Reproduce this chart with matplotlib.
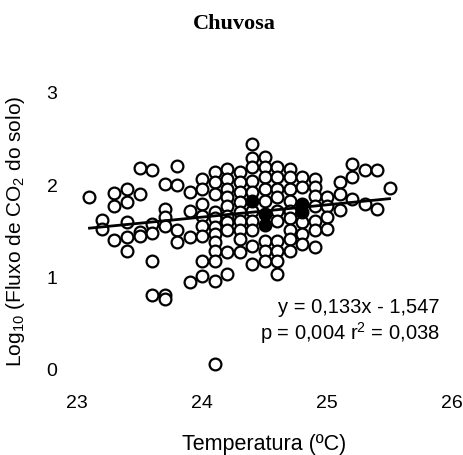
import numpy as np
import matplotlib
matplotlib.use('Agg')
import matplotlib.pyplot as plt

plt.rcParams['font.family'] = ['Liberation Sans', 'DejaVu Sans']
plt.rcParams['mathtext.fontset'] = 'custom'
plt.rcParams['mathtext.rm'] = 'Liberation Sans'
plt.rcParams['mathtext.it'] = 'Liberation Sans'

# Dados: temperatura (ºC) e log10 do fluxo de CO2, por coluna
temp_cols = [23.1, 23.2, 23.3, 23.4, 23.5, 23.6, 23.7, 23.8, 23.9, 24.0, 24.1, 24.2,
             24.3, 24.4, 24.5, 24.6, 24.7, 24.8, 24.9, 25.0, 25.1, 25.2, 25.3, 25.4, 25.5]
fluxo_cols = [
    [1.86],
    [1.61, 1.52],
    [1.91, 1.77, 1.40],
    [1.95, 1.81, 1.59, 1.43, 1.28],
    [2.18, 1.89, 1.48, 1.44],
    [2.15, 1.57, 1.47, 1.17, 0.80],
    [2.00, 1.73, 1.65, 1.55, 0.80, 0.76],
    [2.20, 1.99, 1.50, 1.38],
    [1.92, 1.71, 1.43, 0.94],
    [2.06, 1.95, 1.79, 1.66, 1.55, 1.44, 1.17, 1.01],
    [2.13, 2.03, 1.90, 1.70, 1.63, 1.54, 1.46, 1.38, 1.28, 1.17, 0.95, 0.05],
    [2.17, 2.06, 1.95, 1.86, 1.77, 1.66, 1.59, 1.50, 1.27, 1.03],
    [2.13, 2.03, 1.92, 1.81, 1.70, 1.60, 1.50, 1.41, 1.27],
    [2.44, 2.28, 2.19, 2.04, 1.92, 1.71, 1.60, 1.50, 1.33, 1.14],
    [2.30, 2.19, 2.08, 1.95, 1.82, 1.39, 1.28, 1.17],
    [2.19, 2.08, 1.95, 1.86, 1.71, 1.60, 1.39, 1.28, 1.17, 1.03],
    [2.17, 2.08, 1.95, 1.82, 1.71, 1.63, 1.50, 1.41, 1.28],
    [2.08, 1.97, 1.59, 1.46, 1.35],
    [2.06, 1.97, 1.87, 1.76, 1.60, 1.50, 1.32],
    [1.86, 1.76, 1.65, 1.52],
    [2.03, 1.90, 1.72],
    [2.22, 2.08, 1.84],
    [2.16, 1.79],
    [2.16, 1.73],
    [1.96],
]
# pontos que aparecem preenchidos
temp_cheio = [24.4, 24.5, 24.5, 24.8, 24.8]
fluxo_cheio = [1.82, 1.68, 1.56, 1.79, 1.70]

# regressão informada no gráfico
a, b = 0.133, -1.547
eq_txt = 'y = 0,133x - 1,547'
p_txt = 'p = 0,004 r$^2$ = 0,038'

x_ticks = [23, 24, 25, 26]
y_ticks = [0, 1, 2, 3]

temperatura = np.concatenate([[t] * len(f) for t, f in zip(temp_cols, fluxo_cols)])
fluxo = np.concatenate(fluxo_cols)

fig = plt.figure(figsize=(4.63, 4.56), dpi=100)
ax = fig.add_axes([0.1663, 0.1886, 0.81, 0.6075])

ax.scatter(temperatura, fluxo, s=72, facecolors='white', edgecolors='black',
           linewidths=1.6, zorder=2, clip_on=False)
ax.scatter(temp_cheio, fluxo_cheio, s=72, facecolors='black', edgecolors='black',
           linewidths=1.6, zorder=3, clip_on=False)

xr = np.array([temperatura.min(), temperatura.max()])
ax.plot(xr, a * xr + b, color='black', lw=2.0, zorder=4)

ax.set_xlim(23, 26)
ax.set_ylim(0, 3)
ax.set_xticks(x_ticks)
ax.set_yticks(y_ticks)
ax.tick_params(length=0, labelsize=14)
ax.tick_params(axis='x', pad=18)
ax.tick_params(axis='y', pad=14)
for s in ax.spines.values():
    s.set_visible(False)

ax.set_xlabel('Temperatura (ºC)', fontsize=15.5, labelpad=16)
ax.set_ylabel('Log$_{10}$ (Fluxo de CO$_2$ do solo)', fontsize=15, labelpad=14)

ax.text(25.9, 0.68, eq_txt, fontsize=14.5, ha='right', va='center')
ax.text(25.9, 0.40, p_txt, fontsize=14.5, ha='right', va='center')

fig.text(0.505, 0.948, 'Chuvosa', fontsize=16, fontweight='bold',
         family='Liberation Serif', ha='center', va='center')

fig.savefig('out.png', dpi=100, facecolor='white')
